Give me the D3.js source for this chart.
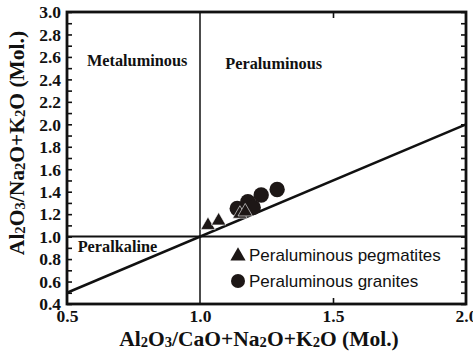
<!DOCTYPE html>
<html>
<head>
<meta charset="utf-8">
<script src="https://cdn.jsdelivr.net/npm/d3@7"></script>
<style>
  html, body { margin: 0; padding: 0; background: #fff; }
  svg { display: block; }
  .serif { font-family: "Liberation Serif", "Times New Roman", serif; font-weight: bold; }
  .sans { font-family: "Liberation Sans", Arial, sans-serif; }
</style>
</head>
<body>
<svg id="chart" width="473" height="354"></svg>
<script>
// A/CNK (x) vs A/NK (y), molar ratios
const pegmatiteX = [1.03, 1.07, 1.15, 1.17];
const pegmatiteY = [1.11, 1.15, 1.21, 1.23];
const graniteX = [1.14, 1.18, 1.20, 1.23, 1.29];
const graniteY = [1.25, 1.31, 1.26, 1.37, 1.42];

const xTickLabels = [0.5, 1.0, 1.5, 2.0];
const yTickLabels = [0.4, 0.6, 0.8, 1.0, 1.2, 1.4, 1.6, 1.8, 2.0, 2.2, 2.4, 2.6, 2.8, 3.0];
const yMinorTicks = d3.range(4, 31).map(d => d / 10);
const xInnerTicks = [1.5];

const seriesNames = ["Peraluminous pegmatites", "Peraluminous granites"];
const fieldNames = ["Metaluminous", "Peraluminous", "Peralkaline"];

const svg = d3.select("#chart");
const m = { left: 67, right: 466, top: 12, bottom: 304 };

const x = d3.scaleLinear().domain([0.5, 2.0]).range([m.left, m.right]);
const y = d3.scaleLinear().domain([0.4, 3.0]).range([m.bottom, m.top]);

// Inward ticks on all four sides
const tickLen = 5;
svg.append("g").attr("transform", `translate(${m.left},0)`)
  .call(d3.axisLeft(y).tickValues(yMinorTicks).tickSize(-tickLen).tickFormat(""))
  .call(g => g.select(".domain").remove())
  .selectAll("line").attr("stroke", "#111").attr("stroke-width", 1.6);
svg.append("g").attr("transform", `translate(${m.right},0)`)
  .call(d3.axisRight(y).tickValues(yMinorTicks).tickSize(-tickLen).tickFormat(""))
  .call(g => g.select(".domain").remove())
  .selectAll("line").attr("stroke", "#111").attr("stroke-width", 1.6);
svg.append("g").attr("transform", `translate(0,${m.top})`)
  .call(d3.axisTop(x).tickValues(xInnerTicks).tickSize(-tickLen - 1).tickFormat(""))
  .call(g => g.select(".domain").remove())
  .selectAll("line").attr("stroke", "#111").attr("stroke-width", 1.6);
svg.append("g").attr("transform", `translate(0,${m.bottom})`)
  .call(d3.axisBottom(x).tickValues(xInnerTicks).tickSize(-tickLen - 1).tickFormat(""))
  .call(g => g.select(".domain").remove())
  .selectAll("line").attr("stroke", "#111").attr("stroke-width", 1.6);

// Tick labels
svg.append("g").attr("transform", `translate(${m.left - 6},0)`)
  .call(d3.axisLeft(y).tickValues(yTickLabels).tickSize(0).tickFormat(d3.format(".1f")))
  .call(g => g.select(".domain").remove())
  .selectAll("text")
  .attr("class", "serif").attr("font-size", 17.5).attr("fill", "#111")
  .attr("dy", "0.33em").attr("x", 0);
svg.append("g").attr("transform", `translate(0,${m.bottom + 3})`)
  .call(d3.axisBottom(x).tickValues(xTickLabels).tickSize(0).tickFormat(d3.format(".1f")))
  .call(g => g.select(".domain").remove())
  .selectAll("text")
  .attr("class", "serif").attr("font-size", 17.5).attr("fill", "#111");

// Field boundaries
svg.append("line")
  .attr("x1", x(1.0)).attr("x2", x(1.0)).attr("y1", y(3.0)).attr("y2", y(0.4))
  .attr("stroke", "#111").attr("stroke-width", 1.5);
svg.append("line")
  .attr("x1", x(0.5)).attr("x2", x(2.0)).attr("y1", y(1.0)).attr("y2", y(1.0))
  .attr("stroke", "#111").attr("stroke-width", 2);
svg.append("line")
  .attr("x1", x(0.5)).attr("x2", x(2.0)).attr("y1", y(0.5)).attr("y2", y(2.0))
  .attr("stroke", "#111").attr("stroke-width", 2.5);

// Frame
svg.append("rect")
  .attr("x", m.left).attr("y", m.top)
  .attr("width", m.right - m.left).attr("height", m.bottom - m.top)
  .attr("fill", "none").attr("stroke", "#111").attr("stroke-width", 2.8);

// Field names
const fieldPos = [[0.575, 2.52], [1.095, 2.49], [0.54, 0.86]];
svg.selectAll("text.field").data(fieldNames).join("text")
  .attr("class", "field serif")
  .attr("x", (d, i) => x(fieldPos[i][0]))
  .attr("y", (d, i) => y(fieldPos[i][1]))
  .attr("font-size", 16.3).attr("fill", "#111")
  .text(d => d);

// Data markers
const tri = d3.symbol().type(d3.symbolTriangle).size(90);
const pegs = pegmatiteX.map((v, i) => [v, pegmatiteY[i]]);
const grans = graniteX.map((v, i) => [v, graniteY[i]]);

svg.selectAll("circle.granite").data(grans).join("circle")
  .attr("class", "granite")
  .attr("cx", d => x(d[0])).attr("cy", d => y(d[1])).attr("r", 7.7)
  .attr("fill", "#1d1716");
svg.selectAll("path.peg").data(pegs).join("path")
  .attr("class", "peg")
  .attr("d", tri)
  .attr("transform", d => `translate(${x(d[0])},${y(d[1]) + 1})`)
  .attr("fill", "#1d1716").attr("stroke", "#fff").attr("stroke-width", 0.6);

// Legend
const legend = svg.append("g");
legend.append("path")
  .attr("d", d3.symbol().type(d3.symbolTriangle).size(100))
  .attr("transform", "translate(238,256)")
  .attr("fill", "#1d1716");
legend.append("circle").attr("cx", 238).attr("cy", 281).attr("r", 7).attr("fill", "#1d1716");
legend.selectAll("text").data(seriesNames).join("text")
  .attr("class", "sans")
  .attr("x", 249).attr("y", (d, i) => 261 + i * 25.5)
  .attr("font-size", 17).attr("fill", "#111")
  .text(d => d);

// Axis titles with subscripted formulas
function formula(sel, parts) {
  parts.forEach(p => {
    const t = sel.append("tspan").text(p.t);
    if (p.sub) t.attr("font-size", "0.68em").attr("dy", "0.1em");
    else if (p.after) t.attr("dy", "-0.068em");
  });
}
const xTitle = svg.append("text")
  .attr("class", "serif").attr("font-size", 21.5).attr("fill", "#111")
  .attr("text-anchor", "middle")
  .attr("x", 259).attr("y", 346);
formula(xTitle, [
  { t: "Al" }, { t: "2", sub: true }, { t: "O", after: true }, { t: "3", sub: true },
  { t: "/CaO+Na", after: true }, { t: "2", sub: true }, { t: "O+K", after: true },
  { t: "2", sub: true }, { t: "O (Mol.)", after: true }
]);

const yTitle = svg.append("text")
  .attr("class", "serif").attr("font-size", 21.5).attr("fill", "#111")
  .attr("text-anchor", "middle")
  .attr("transform", `translate(24,143) rotate(-90)`);
formula(yTitle, [
  { t: "Al" }, { t: "2", sub: true }, { t: "O", after: true }, { t: "3", sub: true },
  { t: "/Na", after: true }, { t: "2", sub: true }, { t: "O+K", after: true },
  { t: "2", sub: true }, { t: "O (Mol.)", after: true }
]);
</script>
</body>
</html>
